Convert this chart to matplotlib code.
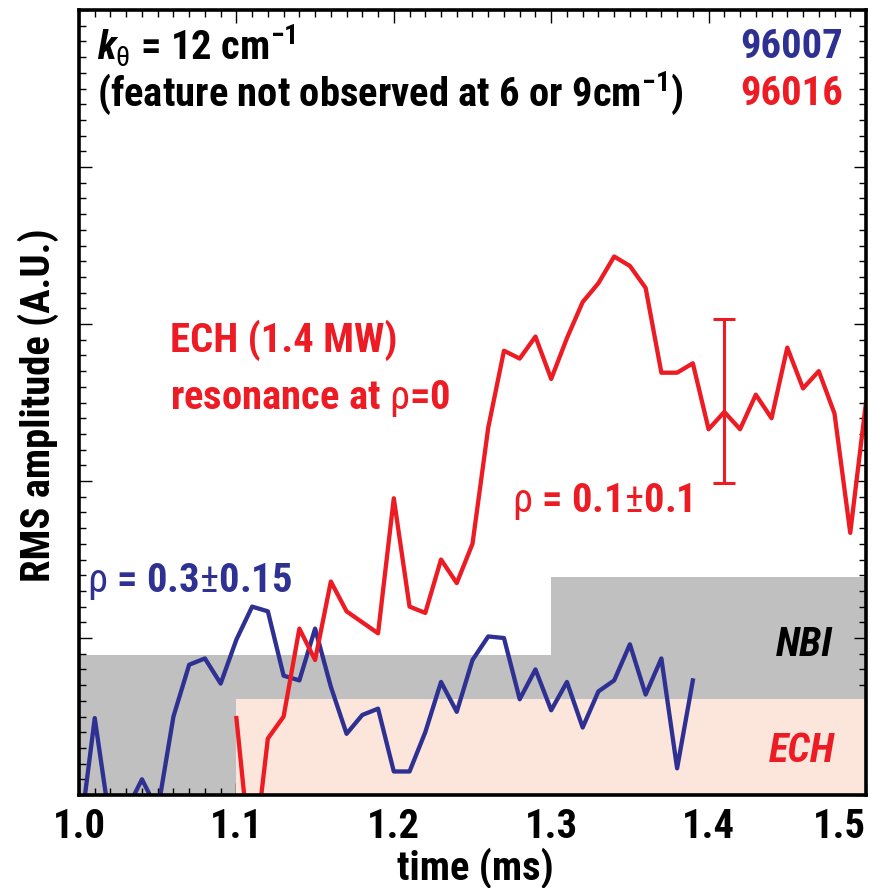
import numpy as np
import matplotlib
matplotlib.use('Agg')
import matplotlib.pyplot as plt
from matplotlib import font_manager as fm
from matplotlib.ticker import MultipleLocator

# data
blue_t = [1.00, 1.01, 1.02, 1.03, 1.04, 1.05, 1.06, 1.07, 1.08, 1.09,
          1.10, 1.11, 1.12, 1.13, 1.14, 1.15, 1.16, 1.17, 1.18, 1.19,
          1.20, 1.21, 1.22, 1.23, 1.24, 1.25, 1.26, 1.27, 1.28, 1.29,
          1.30, 1.31, 1.32, 1.33, 1.34, 1.35, 1.36, 1.37, 1.38, 1.39]
blue_v = [-0.30, 0.49, -0.20, -0.10, 0.10, -0.10, 0.50, 0.83, 0.87, 0.71,
          0.99, 1.20, 1.17, 0.76, 0.73, 1.06, 0.69, 0.39, 0.51, 0.55,
          0.15, 0.15, 0.40, 0.72, 0.53, 0.86, 1.01, 1.00, 0.61, 0.80,
          0.54, 0.72, 0.43, 0.66, 0.73, 0.96, 0.64, 0.87, 0.17, 0.73]

red_t = [1.10, 1.11, 1.12, 1.13, 1.14, 1.15, 1.16, 1.17, 1.18, 1.19,
         1.20, 1.21, 1.22, 1.23, 1.24, 1.25, 1.26, 1.27, 1.28, 1.29,
         1.30, 1.31, 1.32, 1.33, 1.34, 1.35, 1.36, 1.37, 1.38, 1.39,
         1.40, 1.41, 1.42, 1.43, 1.44, 1.45, 1.46, 1.47, 1.48, 1.49, 1.50]
red_v = [0.49, -0.50, 0.36, 0.50, 1.06, 0.86, 1.36, 1.17, 1.10, 1.03,
         1.89, 1.20, 1.16, 1.50, 1.35, 1.60, 2.34, 2.83, 2.78, 2.92,
         2.65, 2.91, 3.14, 3.26, 3.43, 3.37, 3.23, 2.69, 2.69, 2.75,
         2.33, 2.44, 2.33, 2.55, 2.40, 2.85, 2.59, 2.70, 2.43, 1.67, 2.50]

# error bar on the red trace
err_t = [1.41]
err_v = [2.51]
err_size = [0.52]

# heating windows
nbi_t = [1.0, 1.3, 1.5]
nbi_level = [0.89, 1.39, 1.39]
ech_t = [1.1, 1.5]
ech_level = [0.61, 0.61]

xticks = [1.0, 1.1, 1.2, 1.3, 1.4, 1.5]
xticklabels = ['1.0', '1.1', '1.2', '1.3', '1.4', '1.5']

BLUE = '#2e3192'
RED = '#ed1c24'
GRAY = '#c0c0c0'
PINK = '#fce5db'

# narrow bold sans, like the original
names = {f.name for f in fm.fontManager.ttflist}
narrow = 'Liberation Sans'
for cand in ['Roboto Condensed', 'PT Sans Narrow', 'Liberation Sans Narrow', 'Archivo Narrow']:
    if cand in names:
        narrow = cand
        break
plt.rcParams['font.family'] = [narrow, 'DejaVu Sans']
plt.rcParams['font.weight'] = 'bold'
plt.rcParams['mathtext.fontset'] = 'custom'
plt.rcParams['mathtext.rm'] = narrow + ':style=normal:weight=normal'   # thin greek like the original
plt.rcParams['mathtext.it'] = narrow + ':style=italic:weight=bold'
plt.rcParams['mathtext.bf'] = narrow + ':style=normal:weight=bold'

fig = plt.figure(figsize=(8.72, 8.88), dpi=100)
ax = fig.add_axes([0.0906, 0.1047, 0.9025, 0.884])

ax.fill_between(nbi_t, 0, nbi_level, step='post', color=GRAY, lw=0, zorder=1)
ax.fill_between(ech_t, 0, ech_level, step='post', color=PINK, lw=0, zorder=2)

ax.plot(blue_t, blue_v, color=BLUE, lw=3.1, zorder=3)
ax.plot(red_t, red_v, color=RED, lw=3.1, zorder=4)
ax.errorbar(err_t, err_v, yerr=err_size, fmt='none', ecolor=RED,
            elinewidth=2.2, capsize=8, capthick=2.2, zorder=4)

ax.set_xlim(1.0, 1.5)
ax.set_ylim(0, 5)
ax.set_xticks(xticks)
ax.set_xticklabels(xticklabels)
ax.xaxis.set_minor_locator(MultipleLocator(0.01))
ax.yaxis.set_major_locator(MultipleLocator(1))
ax.yaxis.set_minor_locator(MultipleLocator(0.1))
ax.set_yticklabels([])
ax.tick_params(which='both', direction='in', top=True, right=True, width=1.0)
ax.tick_params(which='major', length=9)
ax.tick_params(which='minor', length=5)
ax.tick_params(axis='x', pad=9)
ax.get_xticklabels()[-1].set_ha('right')
for s in ax.spines.values():
    s.set_linewidth(2.6)
    s.set_zorder(6)

fs = 29
texts = []
texts.append(ax.text(0.0229, 0.936, r'$\mathit{k}_{\mathrm{\theta}}$ = 12 cm$^{\mathbf{-1}}$',
                     transform=ax.transAxes, va='baseline', ha='left'))
ref = ax.text(0.0229, 0.878, r'(feature not observed at 6 or 9cm$^{\mathbf{-1}}$)',
              transform=ax.transAxes, va='baseline', ha='left')
texts.append(ref)
texts.append(ax.text(0.971, 0.939, '96007', color=BLUE, transform=ax.transAxes,
                     va='baseline', ha='right'))
texts.append(ax.text(0.971, 0.879, '96016', color=RED, transform=ax.transAxes,
                     va='baseline', ha='right'))
texts.append(ax.text(1.0578, 2.82, 'ECH (1.4 MW)', color=RED, va='baseline'))
texts.append(ax.text(1.0578, 2.46, r'resonance at $\mathrm{\rho}$=0', color=RED, va='baseline'))
texts.append(ax.text(1.005, 1.29, r'$\mathrm{\rho}$ = 0.3$\mathrm{\pm}$0.15', color=BLUE, va='baseline'))
texts.append(ax.text(1.275, 1.80, r'$\mathrm{\rho}$ = 0.1$\mathrm{\pm}$0.1', color=RED, va='baseline'))
texts.append(ax.text(1.4787, 0.885, 'NBI', style='italic', va='baseline', ha='right', zorder=5))
texts.append(ax.text(1.480, 0.21, 'ECH', style='italic', color=RED, va='baseline', ha='right', zorder=5))
texts.append(fig.text(0.0436, 0.544, 'RMS amplitude (A.U.)', rotation=90,
                      ha='center', va='center'))
texts.append(fig.text(0.545, 0.0095, 'time (ms)', ha='center', va='baseline'))
texts += ax.get_xticklabels()

# size the text so the long line is as wide as in the original (about 586 px)
for t in texts:
    t.set_fontsize(fs)
fig.canvas.draw()
w = ref.get_window_extent().width
fs = fs * 586.0 / w
for t in texts:
    t.set_fontsize(fs)

fig.savefig('out.png', dpi=100)
